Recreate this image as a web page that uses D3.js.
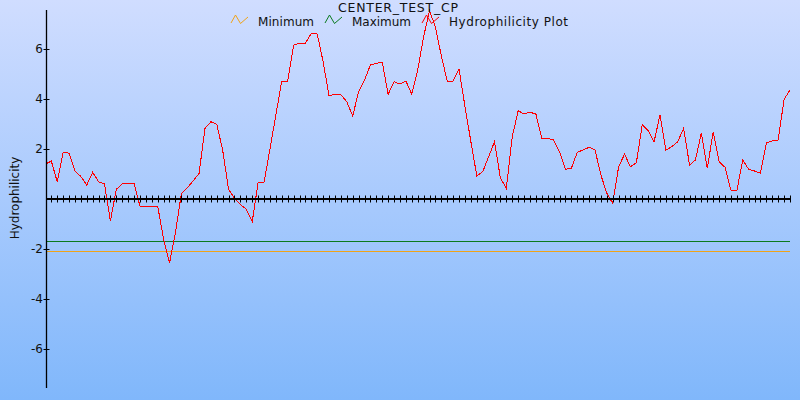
<!DOCTYPE html>
<html><head><meta charset="utf-8">
<script src="https://cdn.jsdelivr.net/npm/d3@7"></script>
<style>
body{margin:0;background:#fff;}
svg{display:block;}
text{font-family:"DejaVu Sans",sans-serif;fill:#111;}
</style>
</head><body>
<svg id="chart" width="800" height="400"></svg>
<script>
// ---- data ----
const chartTitle = "CENTER_TEST_CP";
const yAxisTitle = "Hydrophilicity";
const seriesNames = ["Minimum", "Maximum", "Hydrophilicity Plot"];
const seriesColors = ["#f0a318", "#0a7a1e", "#ff0000"];
const yTickValues = [-6, -4, -2, 2, 4, 6];
const minimumLevel = -2.1;
const maximumLevel = -1.7;
// hydrophilicity value per residue window (index 0..126)
const hydrophilicity = [
  1.39, 1.52, 0.69, 1.87, 1.83, 1.13, 0.90, 0.56, 1.07, 0.69,
  0.60, -0.88, 0.39, 0.60, 0.62, 0.62, -0.28, -0.28, -0.28, -0.28,
  -1.60, -2.57, -1.35, 0.20, 0.45, 0.72, 1.02, 2.82, 3.09, 2.99,
  1.95, 0.38, 0.03, -0.22, -0.41, -0.91, 0.67, 0.67, 2.00, 3.36,
  4.72, 4.72, 6.15, 6.23, 6.23, 6.63, 6.60, 5.49, 4.12, 4.19,
  4.17, 3.89, 3.32, 4.29, 4.76, 5.36, 5.43, 5.47, 4.19, 4.69,
  4.60, 4.72, 4.19, 5.16, 6.49, 7.53, 6.88, 5.72, 4.72, 4.72,
  5.19, 3.70, 2.29, 0.93, 1.09, 1.69, 2.29, 0.83, 0.43, 2.49,
  3.53, 3.40, 3.47, 3.40, 2.43, 2.43, 2.36, 1.89, 1.19, 1.23,
  1.87, 1.96, 2.07, 1.96, 0.96, 0.23, -0.17, 1.29, 1.79, 1.29,
  1.45, 2.97, 2.73, 2.29, 3.36, 1.96, 2.09, 2.29, 2.83, 1.36,
  1.56, 2.65, 1.23, 2.67, 1.49, 1.27, 0.36, 0.32, 1.56, 1.19,
  1.12, 1.03, 2.25, 2.32, 2.36, 3.99, 4.36
];
const positions = d3.range(hydrophilicity.length);
const minimumSeries = positions.map(() => minimumLevel);
const maximumSeries = positions.map(() => maximumLevel);
const xTickValues = d3.range(1, hydrophilicity.length);

// ---- layout ----
const svg = d3.select("#chart");
const W = 800, H = 400;
const plot = {left: 47, right: 790, top: 10, bottom: 388};

const defs = svg.append("defs");
const grad = defs.append("linearGradient").attr("id", "bg").attr("x1", 0).attr("y1", 0).attr("x2", 0).attr("y2", 1);
grad.append("stop").attr("offset", "0%").attr("stop-color", "#d0ddff");
grad.append("stop").attr("offset", "100%").attr("stop-color", "#80b7fb");
defs.append("clipPath").attr("id", "clip").append("rect")
  .attr("x", plot.left).attr("y", plot.top - 2)
  .attr("width", plot.right - plot.left).attr("height", plot.bottom - plot.top + 2);

svg.append("rect").attr("width", W).attr("height", H).attr("fill", "url(#bg)");

const x = d3.scaleLinear().domain([1, hydrophilicity.length - 1]).range([51.3, plot.right]);
const y = d3.scaleLinear().domain([-7.56, 7.56]).range([plot.bottom, plot.top]);

const line = d3.line().x((d, i) => x(positions[i])).y(d => y(d));

const g = svg.append("g").attr("clip-path", "url(#clip)");
// threshold lines
g.append("path").datum(minimumSeries).attr("d", line)
  .attr("fill", "none").attr("stroke", seriesColors[0]).attr("stroke-width", 1)
  .attr("shape-rendering", "crispEdges");
g.append("path").datum(maximumSeries).attr("d", line)
  .attr("fill", "none").attr("stroke", seriesColors[1]).attr("stroke-width", 1.3)
  .attr("shape-rendering", "crispEdges");

// x axis at y = 0
const xAxisY = y(0);
svg.append("line").attr("x1", plot.left).attr("x2", plot.right)
  .attr("y1", xAxisY).attr("y2", xAxisY)
  .attr("stroke", "#000").attr("stroke-width", 2);
svg.append("g").selectAll("line").data(xTickValues).join("line")
  .attr("x1", d => Math.round(x(d)) + 0.5).attr("x2", d => Math.round(x(d)) + 0.5)
  .attr("y1", xAxisY - 3.5).attr("y2", xAxisY + 3.5)
  .attr("stroke", "#000").attr("stroke-width", 1);

// hydrophilicity line
g.append("path").datum(hydrophilicity).attr("d", line)
  .attr("fill", "none").attr("stroke", seriesColors[2]).attr("stroke-width", 1)
  .attr("shape-rendering", "crispEdges");

// y axis
svg.append("line").attr("x1", plot.left - 0.5).attr("x2", plot.left - 0.5)
  .attr("y1", plot.top).attr("y2", plot.bottom)
  .attr("stroke", "#000").attr("stroke-width", 1.3);
const yt = svg.append("g");
yt.selectAll("line").data(yTickValues).join("line")
  .attr("x1", plot.left - 3.5).attr("x2", plot.left + 2.5)
  .attr("y1", d => Math.round(y(d)) + 0.5).attr("y2", d => Math.round(y(d)) + 0.5)
  .attr("stroke", "#000").attr("stroke-width", 1);
yt.selectAll("text").data(yTickValues).join("text")
  .attr("x", plot.left - 4).attr("y", d => y(d))
  .attr("dy", "0.36em").attr("text-anchor", "end")
  .attr("font-size", 12).text(d => d);

// y axis title
svg.append("text").attr("transform", "translate(19,198) rotate(-90)")
  .attr("text-anchor", "middle").attr("font-size", 12).text(yAxisTitle);

// title
svg.append("text").attr("x", 398).attr("y", 11.8).attr("text-anchor", "middle")
  .attr("font-size", 12.5).attr("textLength", 120).attr("lengthAdjust", "spacing")
  .text(chartTitle);

// legend
const legendTextLengths = [56, 59, 119];
const legend = svg.append("g");
let lx = 231;
seriesNames.forEach((name, i) => {
  const item = legend.append("g").attr("transform", `translate(${lx},15)`);
  item.append("path").attr("d", "M0,8 L4.5,0 L9.5,8.5 L17,2")
    .attr("fill", "none").attr("stroke", seriesColors[i]).attr("stroke-width", 1);
  item.append("text").attr("x", 27).attr("y", 11.2).attr("font-size", 12)
    .attr("textLength", legendTextLengths[i]).attr("lengthAdjust", "spacing")
    .text(name);
  lx += 27 + legendTextLengths[i] + 11;
});
</script>
</body></html>
